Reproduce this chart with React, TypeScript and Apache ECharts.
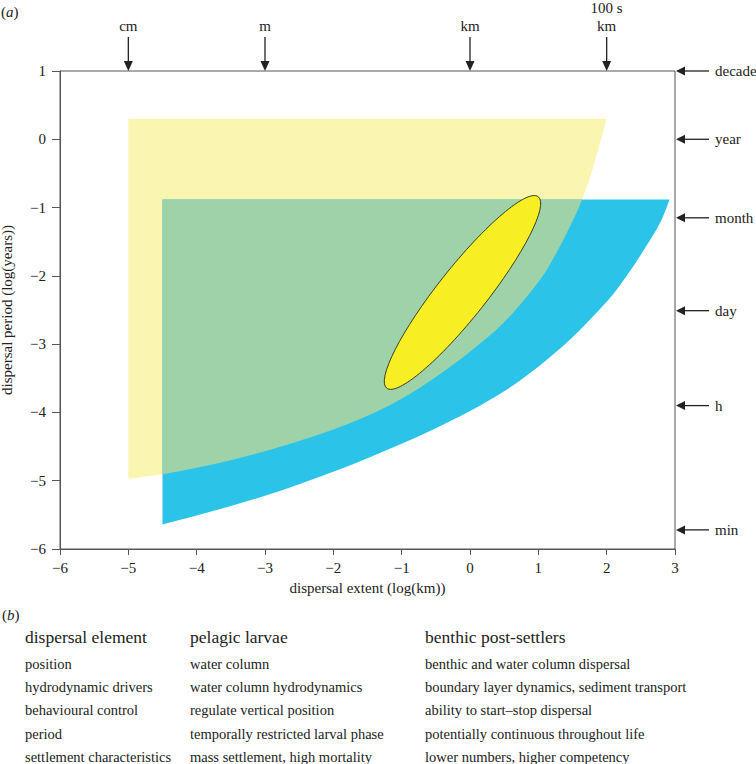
import React, { useEffect, useRef } from "react";
import * as echarts from "echarts";

// ---- data ----
const xTicks = [-6, -5, -4, -3, -2, -1, 0, 1, 2, 3];
const yTicks = [-6, -5, -4, -3, -2, -1, 0, 1];

// pelagic larvae envelope (pale yellow)
const yellowTop = 0.3;
const yellowLeft = -5;
const yellowLower: number[][] = [
  [-5, -4.97], [-4.5, -4.905], [-4, -4.81], [-3.5, -4.7], [-3, -4.57], [-2.5, -4.42],
  [-2, -4.25], [-1.5, -4.05], [-1, -3.8], [-0.5, -3.48], [0, -3.11], [0.5, -2.68],
  [1, -2.09], [1.25, -1.69], [1.5, -1.2], [1.64, -0.88], [1.8, -0.42], [2, 0.3],
];

// benthic post-settlers envelope (blue)
const blueTop = -0.88;
const blueLeft = -4.5;
const blueLower: number[][] = [
  [-4.5, -5.64], [-4, -5.51], [-3.5, -5.37], [-3, -5.22], [-2.5, -5.05], [-2, -4.87],
  [-1.5, -4.67], [-1, -4.46], [-0.5, -4.23], [0, -3.98], [0.5, -3.69], [1, -3.33],
  [1.5, -2.9], [2, -2.38], [2.25, -2.06], [2.5, -1.69], [2.7, -1.37], [2.82, -1.14], [2.92, -0.88],
];

// ellipse: centre x, centre y, semi-major, semi-minor, angle (deg)
const ellipseSpec = [-0.11, -2.243, 1.787, 0.359, 51.65];

const topMarkers = [
  { label: "cm", x: -5 },
  { label: "m", x: -3 },
  { label: "km", x: 0 },
  { label: "100 s\nkm", x: 2 },
];
const rightMarkers = [
  { label: "decade", y: 1 },
  { label: "year", y: 0 },
  { label: "month", y: -1.15 },
  { label: "day", y: -2.51 },
  { label: "h", y: -3.9 },
  { label: "min", y: -5.72 },
];

const tableHeaders = ["dispersal element", "pelagic larvae", "benthic post-settlers"];
const dispersalElements = [
  "position",
  "hydrodynamic drivers",
  "behavioural control",
  "period",
  "settlement characteristics",
];
const pelagicLarvae = [
  "water column",
  "water column hydrodynamics",
  "regulate vertical position",
  "temporally restricted larval phase",
  "mass settlement, high mortality",
];
const benthicPostSettlers = [
  "benthic and water column dispersal",
  "boundary layer dynamics, sediment transport",
  "ability to start\u2013stop dispersal",
  "potentially continuous throughout life",
  "lower numbers, higher competency",
];

const FONT = "'Liberation Serif', 'Times New Roman', serif";
const INK = "#222";

const fmt = (v: number) => (v < 0 ? "\u2212" + Math.abs(v) : String(v));

// Catmull-Rom curve through full[from] .. full[to] (pixel points), using full-array neighbours
function curvePath(px: number[][], from: number, to: number): string {
  const step = from < to ? 1 : -1;
  let d = "";
  for (let i = from; i !== to; i += step) {
    const p1 = px[i];
    const p2 = px[i + step];
    const p0 = px[i - step] || p1;
    const p3 = px[i + 2 * step] || p2;
    const c1x = p1[0] + (p2[0] - p0[0]) / 6;
    const c1y = p1[1] + (p2[1] - p0[1]) / 6;
    const c2x = p2[0] - (p3[0] - p1[0]) / 6;
    const c2y = p2[1] - (p3[1] - p1[1]) / 6;
    d += ` C ${c1x} ${c1y} ${c2x} ${c2y} ${p2[0]} ${p2[1]}`;
  }
  return d;
}

function areaSeries(name: string, color: string, build: (coord: (p: number[]) => number[]) => string, anchor: number[]) {
  return {
    type: "custom",
    name,
    coordinateSystem: "cartesian2d",
    silent: true,
    data: [anchor],
    encode: { x: 0, y: 1 },
    renderItem: (_params: any, api: any) => {
      const d = build((p) => api.coord(p));
      return { type: "path", shape: { pathData: d }, style: { fill: color } };
    },
  };
}

export default function App() {
  const ref = useRef<HTMLDivElement>(null);
  useEffect(() => {
    if (!ref.current) return;
    const chart = echarts.init(ref.current, undefined, { renderer: "svg" });

    const yLast = yellowLower.length - 1;
    const gStart = yellowLower.findIndex((p) => p[1] === blueTop);
    const gEnd = yellowLower.findIndex((p) => p[0] === blueLeft);
    const bLast = blueLower.length - 1;

    const yellowSeries = areaSeries("pelagic larvae", "#FAF5B1", (coord) => {
      const px = yellowLower.map(coord);
      const tl = coord([yellowLeft, yellowTop]);
      return `M ${tl[0]} ${tl[1]} L ${px[yLast][0]} ${px[yLast][1]}` + curvePath(px, yLast, 0) + " Z";
    }, yellowLower[0]);

    const blueSeries = areaSeries("benthic post-settlers", "#2BC3E8", (coord) => {
      const px = blueLower.map(coord);
      const tl = coord([blueLeft, blueTop]);
      return `M ${tl[0]} ${tl[1]} L ${px[bLast][0]} ${px[bLast][1]}` + curvePath(px, bLast, 0) + " Z";
    }, blueLower[0]);

    const greenSeries = areaSeries("overlap", "#9ED3A9", (coord) => {
      const px = yellowLower.map(coord);
      const tl = coord([blueLeft, blueTop]);
      return `M ${tl[0]} ${tl[1]} L ${px[gStart][0]} ${px[gStart][1]}` + curvePath(px, gStart, gEnd) + " Z";
    }, yellowLower[gEnd]);

    const ellipseSeries = {
      type: "custom",
      name: "ellipse",
      coordinateSystem: "cartesian2d",
      silent: true,
      data: [ellipseSpec],
      encode: { x: 0, y: 1 },
      renderItem: (_params: any, api: any) => {
        const [cx, cy, a, b, angDeg] = ellipseSpec;
        const t = (angDeg * Math.PI) / 180;
        const c = api.coord([cx, cy]);
        const tipA = api.coord([cx + a * Math.cos(t), cy + a * Math.sin(t)]);
        const tipB = api.coord([cx - b * Math.sin(t), cy + b * Math.cos(t)]);
        const rx = Math.hypot(tipA[0] - c[0], tipA[1] - c[1]);
        const ry = Math.hypot(tipB[0] - c[0], tipB[1] - c[1]);
        const rot = Math.atan2(-(tipA[1] - c[1]), tipA[0] - c[0]);
        return {
          type: "ellipse",
          x: c[0],
          y: c[1],
          rotation: rot,
          shape: { cx: 0, cy: 0, rx, ry },
          style: { fill: "#F8EE24", stroke: "#3b3a1c", lineWidth: 0.9 },
        };
      },
    };

    const option: any = {
      animation: false,
      backgroundColor: "#ffffff",
      grid: {
        left: 60,
        top: 71,
        right: 81,
        bottom: 215,
        outerBoundsMode: "none",
        containLabel: false,
        show: true,
        borderColor: "#555",
        borderWidth: 1,
        backgroundColor: "transparent",
      },
      xAxis: {
        type: "value",
        min: xTicks[0],
        max: xTicks[xTicks.length - 1],
        interval: 1,
        name: "dispersal extent (log(km))",
        nameLocation: "middle",
        nameGap: 31,
        nameTextStyle: { fontFamily: FONT, fontSize: 15, color: INK },
        axisLine: { show: true, onZero: false, lineStyle: { color: "#555", width: 1 } },
        axisTick: { show: true, inside: false, length: 6, lineStyle: { color: "#555" } },
        axisLabel: { formatter: fmt, fontFamily: FONT, fontSize: 15, color: INK, margin: 11 },
        splitLine: { show: false },
      },
      yAxis: {
        type: "value",
        min: yTicks[0],
        max: yTicks[yTicks.length - 1],
        interval: 1,
        name: "dispersal period (log(years))",
        nameLocation: "middle",
        nameRotate: 90,
        nameGap: 46,
        nameTextStyle: { fontFamily: FONT, fontSize: 15, color: INK },
        axisLine: { show: true, onZero: false, lineStyle: { color: "#555", width: 1 } },
        axisTick: { show: true, inside: false, length: 8, lineStyle: { color: "#555" } },
        axisLabel: { formatter: fmt, fontFamily: FONT, fontSize: 15, color: INK, margin: 14 },
        splitLine: { show: false },
      },
      series: [yellowSeries, blueSeries, greenSeries, ellipseSeries],
    };
    chart.setOption(option);

    const g: any[] = [];
    const txt = (x: number, y: number, text: string, extra: any = {}) => ({
      type: "text",
      x,
      y,
      silent: true,
      style: { text, fontFamily: FONT, fontSize: 15, fill: INK, ...extra },
    });

    topMarkers.forEach((m) => {
      const p = chart.convertToPixel({ gridIndex: 0 }, [m.x, yTicks[yTicks.length - 1]]) as number[];
      g.push({
        type: "line",
        silent: true,
        shape: { x1: p[0], y1: p[1] - 34, x2: p[0], y2: p[1] - 9 },
        style: { stroke: INK, lineWidth: 1.3 },
      });
      g.push({
        type: "polygon",
        silent: true,
        shape: { points: [[p[0] - 4.5, p[1] - 10], [p[0] + 4.5, p[1] - 10], [p[0], p[1]]] },
        style: { fill: INK },
      });
      g.push(txt(p[0], p[1] - 36, m.label, { align: "center", verticalAlign: "bottom", lineHeight: 18 }));
    });

    rightMarkers.forEach((m) => {
      const p = chart.convertToPixel({ gridIndex: 0 }, [xTicks[xTicks.length - 1], m.y]) as number[];
      const x0 = p[0] + 1;
      g.push({
        type: "polygon",
        silent: true,
        shape: { points: [[x0, p[1]], [x0 + 9, p[1] - 4.5], [x0 + 9, p[1] + 4.5]] },
        style: { fill: INK },
      });
      g.push({
        type: "line",
        silent: true,
        shape: { x1: x0 + 8, y1: p[1], x2: x0 + 33, y2: p[1] },
        style: { stroke: INK, lineWidth: 1.3 },
      });
      g.push(txt(x0 + 39, p[1], m.label, { align: "left", verticalAlign: "middle" }));
    });

    const italicLabel = (x: number, y: number, letter: string) => ({
      type: "text",
      x,
      y,
      silent: true,
      style: {
        text: "({i|" + letter + "})",
        fontFamily: FONT,
        fontSize: 15,
        fill: INK,
        verticalAlign: "middle",
        rich: { i: { fontStyle: "italic", fontFamily: FONT, fontSize: 15, fill: INK } },
      },
    });
    g.push(italicLabel(1, 12, "a"));
    g.push(italicLabel(2, 615, "b"));

    const colX = [25, 190, 425];
    const columns = [dispersalElements, pelagicLarvae, benthicPostSettlers];
    tableHeaders.forEach((h, i) => {
      g.push(txt(colX[i], 637, h, { fontSize: 17.5, verticalAlign: "middle", align: "left" }));
      columns[i].forEach((row, j) => {
        g.push(txt(colX[i], 664 + j * 23.2, row, { fontSize: 14.5, verticalAlign: "middle", align: "left" }));
      });
    });

    chart.setOption({ graphic: g });

    return () => chart.dispose();
  }, []);

  return (
    <div
      ref={ref}
      style={{ position: "absolute", left: 0, top: 0, width: 756, height: 764, background: "#fff" }}
    />
  );
}
